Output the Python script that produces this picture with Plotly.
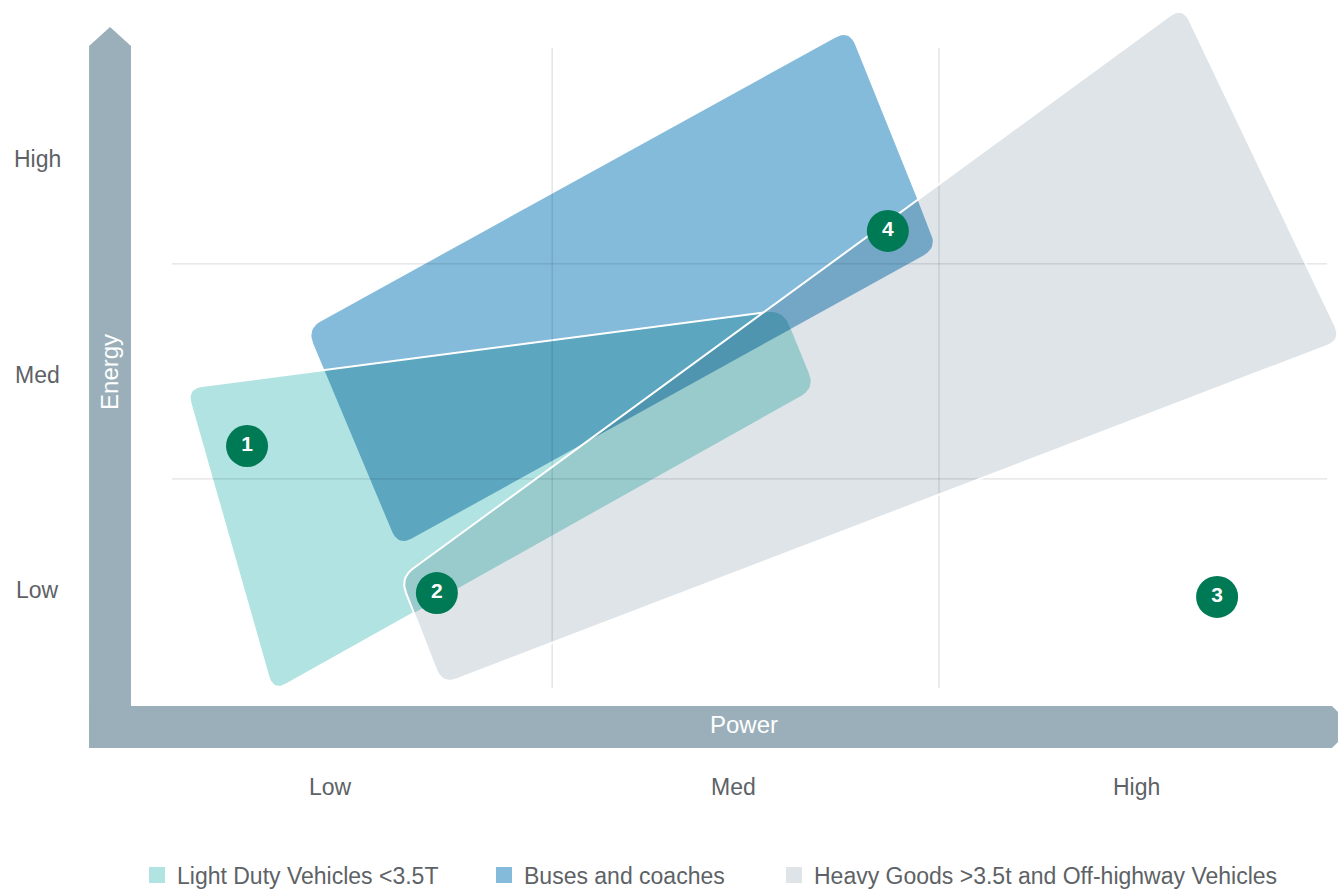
import plotly.graph_objects as go

# ---------------- data (Power / Energy units) ----------------
series_names = ["Light Duty Vehicles <3.5T", "Buses and coaches",
                "Heavy Goods >3.5t and Off-highway Vehicles"]
series_colors = ["#B0E3E1", "#85BBDA", "#DEE4E8"]

# corner points of each vehicle-class region
light_duty_power = [0.142, 1.623, 1.702, 0.357]
light_duty_energy = [1.437, 1.800, 1.437, 0.025]
buses_power = [0.442, 1.787, 2.005, 0.668]
buses_energy = [1.712, 3.101, 2.088, 0.703]
heavy_power = [0.673, 2.615, 3.010, 0.777]
heavy_energy = [0.555, 3.212, 1.660, 0.058]

marker_labels = ["1", "2", "3", "4"]
marker_power = [0.293, 0.764, 2.700, 1.883]
marker_energy = [1.168, 0.485, 0.467, 2.167]

tick_labels = ["Low", "Med", "High"]
power_ticks = [0.5, 1.5, 2.5]
energy_ticks = [0.5, 1.5, 2.5]
power_grid = [1.05, 2.01]
energy_grid = [1.015, 2.014]

# ---------------- layout constants ----------------
W, H = 1338, 889
X_RANGE = [-0.32, 3.0]
Y_RANGE = [-0.89, 3.24]
SX = W / (X_RANGE[1] - X_RANGE[0])
SY = H / (Y_RANGE[1] - Y_RANGE[0])
CORNER_PX = 16
GREEN = "#007A55"
AXIS_BAR = "#9AAFBA"
TEXT = "#5d6266"
FONT = "Liberation Sans, Arial, sans-serif"


def rounded(xs, ys, r=CORNER_PX, n=10):
    pts = [(x * SX, y * SY) for x, y in zip(xs, ys)]
    N = len(pts)
    out = []
    for i in range(N):
        P = pts[i]
        A = pts[i - 1]
        B = pts[(i + 1) % N]

        def unit(Q):
            dx, dy = Q[0] - P[0], Q[1] - P[1]
            L = (dx * dx + dy * dy) ** 0.5
            return dx / L, dy / L
        d1, d2 = unit(A), unit(B)
        T1 = (P[0] + d1[0] * r, P[1] + d1[1] * r)
        T2 = (P[0] + d2[0] * r, P[1] + d2[1] * r)
        for k in range(n + 1):
            s = k / n
            a, b, c = (1 - s) ** 2, 2 * s * (1 - s), s * s
            out.append((a * T1[0] + b * P[0] + c * T2[0],
                        a * T1[1] + b * P[1] + c * T2[1]))
    return [(u / SX, v / SY) for u, v in out]


def cross(o, a, b):
    return (a[0] - o[0]) * (b[1] - o[1]) - (a[1] - o[1]) * (b[0] - o[0])


def area_sign(poly):
    s = 0
    for i in range(len(poly)):
        x1, y1 = poly[i]
        x2, y2 = poly[(i + 1) % len(poly)]
        s += x1 * y2 - x2 * y1
    return 1 if s > 0 else -1


def clip(subject, clipper):
    orient = area_sign(clipper)
    output = list(subject)
    n = len(clipper)
    for i in range(n):
        a, b = clipper[i], clipper[(i + 1) % n]
        inp, output = output, []
        if not inp:
            break

        def inside(p):
            return cross(a, b, p) * orient >= 0

        def inter(S, E):
            d1 = (E[0] - S[0], E[1] - S[1])
            d2 = (b[0] - a[0], b[1] - a[1])
            den = d1[0] * d2[1] - d1[1] * d2[0]
            t = ((a[0] - S[0]) * d2[1] - (a[1] - S[1]) * d2[0]) / den
            return (S[0] + t * d1[0], S[1] + t * d1[1])
        S = inp[-1]
        for E in inp:
            if inside(E):
                if not inside(S):
                    output.append(inter(S, E))
                output.append(E)
            elif inside(S):
                output.append(inter(S, E))
            S = E
    return output


def multiply(*cols):
    r, g, b = 255, 255, 255
    for c in cols:
        c = c.lstrip("#")
        r = r * int(c[0:2], 16) / 255
        g = g * int(c[2:4], 16) / 255
        b = b * int(c[4:6], 16) / 255
    return "rgb(%d,%d,%d)" % (round(r), round(g), round(b))


teal_c, blue_c, gray_c = series_colors
teal = rounded(light_duty_power, light_duty_energy)
blue = rounded(buses_power, buses_energy)
gray = rounded(heavy_power, heavy_energy)

AB = clip(teal, blue)
AC = clip(blue, gray)
BC = clip(teal, gray)
ABC = clip(AB, gray)


def fill_trace(poly, color):
    xs = [p[0] for p in poly] + [poly[0][0]]
    ys = [p[1] for p in poly] + [poly[0][1]]
    return go.Scatter(x=xs, y=ys, mode="lines", fill="toself", fillcolor=color,
                      line=dict(width=0), hoverinfo="skip", showlegend=False)


def outline_trace(poly, color, width=2):
    xs = [p[0] for p in poly] + [poly[0][0]]
    ys = [p[1] for p in poly] + [poly[0][1]]
    return go.Scatter(x=xs, y=ys, mode="lines", line=dict(color=color, width=width),
                      hoverinfo="skip", showlegend=False)


fig = go.Figure()
fig.add_trace(fill_trace(blue, blue_c))
fig.add_trace(fill_trace(teal, teal_c))
fig.add_trace(fill_trace(AB, multiply(teal_c, blue_c)))
fig.add_trace(outline_trace(teal, "white"))
fig.add_trace(fill_trace(gray, gray_c))
fig.add_trace(fill_trace(AC, multiply(blue_c, gray_c)))
fig.add_trace(fill_trace(BC, multiply(teal_c, gray_c)))
fig.add_trace(fill_trace(ABC, multiply(teal_c, blue_c, gray_c)))

# grid lines
gx, gy = [], []
for g in power_grid:
    gx += [g, g, None]
    gy += [0.044, 3.017, None]
for g in energy_grid:
    gx += [0.107, 2.973, None]
    gy += [g, g, None]
fig.add_trace(go.Scatter(x=gx, y=gy, mode="lines",
                         line=dict(color="rgba(20,35,45,0.17)", width=1),
                         hoverinfo="skip", showlegend=False))

fig.add_trace(outline_trace(gray, "white"))

# numbered markers
fig.add_trace(go.Scatter(x=marker_power, y=marker_energy, mode="markers+text",
                         text=marker_labels, textposition="middle center",
                         marker=dict(size=42, color=GREEN, line=dict(width=0)),
                         textfont=dict(color="white", size=21, family=FONT, weight="bold"),
                         hoverinfo="skip", showlegend=False))

# legend entries (one legend each, to keep the original spacing)
legend_ids = ["legend", "legend2", "legend3"]
legend_centers_px = [157, 504, 794]
for name, col, lid in zip(series_names, series_colors, legend_ids):
    fig.add_trace(go.Scatter(x=[None], y=[None], mode="markers", name=name,
                             marker=dict(symbol="square", size=20, color=col),
                             legend=lid))

shapes = [
    dict(type="path", xref="x", yref="y", layer="below",
         path="M -0.099,-0.235 L -0.099,3.026 L -0.047,3.115 L 0.005,3.026 L 0.005,-0.235 Z",
         fillcolor=AXIS_BAR, line=dict(width=0)),
    dict(type="path", xref="x", yref="y", layer="below",
         path="M -0.099,-0.040 L 2.985,-0.040 L 3.037,-0.138 L 2.985,-0.235 L -0.099,-0.235 Z",
         fillcolor=AXIS_BAR, line=dict(width=0)),
]

annotations = []
for lab, v in zip(tick_labels, power_ticks):
    annotations.append(dict(x=v, y=-0.416, text=lab, showarrow=False,
                            font=dict(size=23, color=TEXT, family=FONT)))
for lab, v in zip(tick_labels, energy_ticks):
    annotations.append(dict(x=-0.226, y=v, text=lab, showarrow=False,
                            font=dict(size=23, color=TEXT, family=FONT)))
annotations.append(dict(x=1.526, y=-0.128, text="Power", showarrow=False,
                        font=dict(size=24, color="white", family=FONT)))
annotations.append(dict(x=-0.047, y=1.512, text="Energy", showarrow=False, textangle=-90,
                        font=dict(size=24, color="white", family=FONT)))

layout = dict(
    width=W, height=H, margin=dict(l=0, r=0, t=0, b=0, autoexpand=False),
    paper_bgcolor="white", plot_bgcolor="white",
    xaxis=dict(range=X_RANGE, visible=False, fixedrange=True),
    yaxis=dict(range=Y_RANGE, visible=False, fixedrange=True),
    shapes=shapes, annotations=annotations, hovermode=False,
    font=dict(family=FONT, color=TEXT),
)
for lid, cpx in zip(legend_ids, legend_centers_px):
    layout[lid] = dict(x=(cpx - 20) / W, xanchor="left", y=1 - 875 / H, yanchor="middle",
                       orientation="h", bgcolor="rgba(0,0,0,0)",
                       font=dict(size=23, color=TEXT, family=FONT))
fig.update_layout(**layout)

fig.write_html("out.html", config={"displayModeBar": False},
               post_script="document.body.style.margin='0px';")
